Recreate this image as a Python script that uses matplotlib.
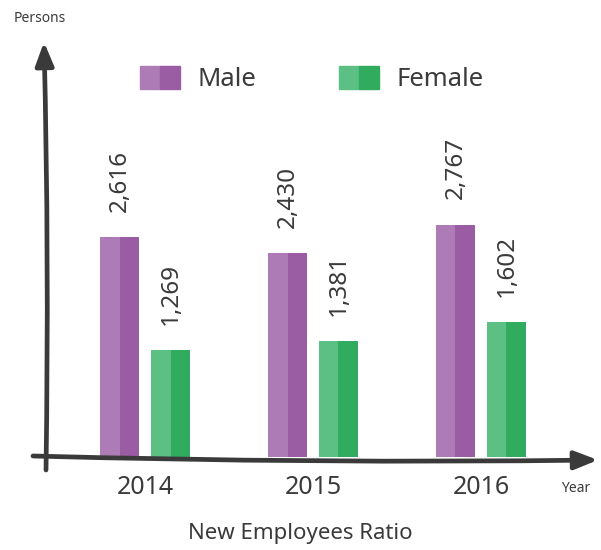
import matplotlib
matplotlib.use("Agg")
import matplotlib.pyplot as plt
import numpy as np
from matplotlib.patches import Patch
from matplotlib.legend_handler import HandlerTuple

years = ["2014", "2015", "2016"]
male = [2616, 2430, 2767]
female = [1269, 1381, 1602]

plt.rcParams["font.family"] = ["Noto Sans", "DejaVu Sans"]

MALE_L, MALE_D = "#ad7bb5", "#9a5ca3"
FEM_L, FEM_D = "#5cbf83", "#31ac5f"
AXIS = "#3a3a3a"
TEXT = "#3a3a3a"

W, H = 601, 550
fig = plt.figure(figsize=(W / 100, H / 100), dpi=100)

# main axes spans the whole figure; limits chosen so groups sit 168 px apart
px_per_unit = 0.0840
ax = fig.add_axes([0, 0, 1, 1])
ax.set_xlim(-145 / 168, (W - 145) / 168)
ax.set_ylim(-(H - 457) / px_per_unit, 457 / px_per_unit)
ax.axis("off")

x = np.arange(len(years))
w = 39 / 168
off = 25.5 / 168

for vals, xc, light, dark in [(male, x - off, MALE_L, MALE_D),
                              (female, x + off, FEM_L, FEM_D)]:
    ax.bar(xc - w / 4, vals, width=w / 2, color=light, linewidth=0)
    ax.bar(xc + w / 4, vals, width=w / 2, color=dark, linewidth=0)
    for xi, v in zip(xc, vals):
        ax.text(xi, v + 300, f"{v:,}", rotation=90, ha="center", va="bottom",
                fontsize=17.5, color=TEXT)

for xi, yr in zip(x, years):
    ax.text(xi, -30 / px_per_unit, yr, ha="center", va="center",
            fontsize=18, color=TEXT)


def fp(px, py):
    # figure pixels measured from the top-left corner
    return (px, H - py)


# hand-drawn looking axes with arrow heads
arrow = dict(arrowstyle="-|>,head_length=1.4,head_width=0.55",
             color=AXIS, lw=3.4, shrinkA=0, shrinkB=0,
             connectionstyle="arc3,rad=0.01")
ax.annotate("", xy=fp(44, 42), xytext=fp(46, 470),
            xycoords="figure pixels", textcoords="figure pixels",
            arrowprops=arrow)
ax.annotate("", xy=fp(598, 460), xytext=fp(33, 456),
            xycoords="figure pixels", textcoords="figure pixels",
            arrowprops=arrow)

fig.text(14 / W, 1 - 18 / H, "Persons", fontsize=10, color=TEXT,
         ha="left", va="center")
fig.text(576 / W, 1 - 488 / H, "Year", fontsize=10, color=TEXT,
         ha="center", va="center")
fig.text(300 / W, 1 - 533 / H, "New Employees Ratio", fontsize=16,
         color=TEXT, ha="center", va="center")

handles = [(Patch(color=MALE_L), Patch(color=MALE_D)),
           (Patch(color=FEM_L), Patch(color=FEM_D))]
leg = fig.legend(handles, ["Male", "Female"], ncol=2, frameon=False,
                 loc="center left", bbox_to_anchor=(140 / W, 1 - 79 / H),
                 bbox_transform=fig.transFigure, borderpad=0, borderaxespad=0,
                 fontsize=18.5, handlelength=1.55, handleheight=1.0,
                 handletextpad=0.7, columnspacing=3.2,
                 handler_map={tuple: HandlerTuple(ndivide=None, pad=0)})
for t in leg.get_texts():
    t.set_color(TEXT)

fig.savefig("out.png", dpi=100)
